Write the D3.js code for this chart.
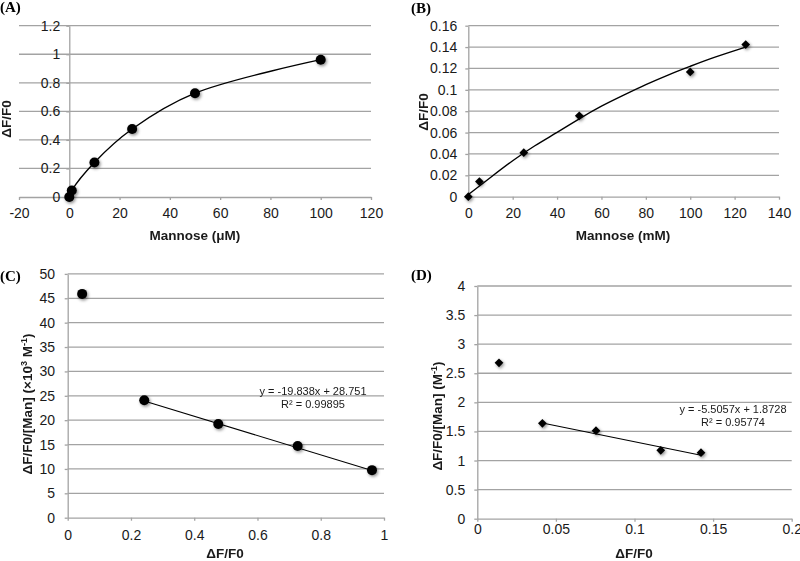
<!DOCTYPE html>
<html><head><meta charset="utf-8">
<script src="https://cdn.jsdelivr.net/npm/d3@7"></script>
<style>
body{margin:0;background:#fff}
text{font-family:"Liberation Sans",Arial,sans-serif}
</style></head>
<body><svg id="c" width="800" height="561"></svg>
<script>
// ---------- DATA ----------
// (A) Mannose (µM) vs ΔF/F0
const aX = [0, 1, 10, 25, 50, 100];
const aY = [0, 0.0457, 0.242, 0.476, 0.727, 0.962];
const aXTicks = [-20, 0, 20, 40, 60, 80, 100, 120];
const aYTicks = [0, 0.2, 0.4, 0.6, 0.8, 1, 1.2];
// (B) Mannose (mM) vs ΔF/F0
const bX = [0, 5, 25, 50, 100, 125];
const bY = [0, 0.0142, 0.0412, 0.0757, 0.1167, 0.1423];
const bFitX = [0, 10, 20, 30, 40, 50, 60, 70, 80, 90, 100, 110, 125];
const bFitY = [0.002, 0.018, 0.034, 0.048, 0.060, 0.073, 0.085, 0.095, 0.105, 0.114, 0.122, 0.130, 0.140];
const bXTicks = [0, 20, 40, 60, 80, 100, 120, 140];
const bYTicks = [0, 0.02, 0.04, 0.06, 0.08, 0.1, 0.12, 0.14, 0.16];
// (C) Scatchard, µM data
const cX = [0.0457, 0.242, 0.476, 0.727, 0.962];
const cY = [45.9, 24.1, 19.2, 14.7, 9.75];
const cSlope = -19.838, cIntercept = 28.751;
const cEq = ["y = -19.838x + 28.751", "R² = 0.99895"];
const cXTicks = [0, 0.2, 0.4, 0.6, 0.8, 1];
const cYTicks = [0, 5, 10, 15, 20, 25, 30, 35, 40, 45, 50];
// (D) Scatchard, mM data
const dX = [0.0138, 0.0414, 0.0755, 0.1167, 0.1423];
const dY = [2.68, 1.64, 1.513, 1.175, 1.135];
const dSlope = -5.5057, dIntercept = 1.8728;
const dEq = ["y = -5.5057x + 1.8728", "R² = 0.95774"];
const dXTicks = [0, 0.05, 0.1, 0.15, 0.2];
const dYTicks = [0, 0.5, 1, 1.5, 2, 2.5, 3, 3.5, 4];

// ---------- DRAW ----------
const svg = d3.select("#c");
const GRID = "#a3a3a3", TXT = "#1a1a1a";
const defs = svg.append("defs");
const f = defs.append("filter").attr("id","sh").attr("x","-80%").attr("y","-80%").attr("width","260%").attr("height","260%");
f.append("feDropShadow").attr("dx",1.2).attr("dy",1.5).attr("stdDeviation",1.4).attr("flood-color","#000").attr("flood-opacity",0.45);

function panel(cfg) {
  const g = svg.append("g");
  const x = d3.scaleLinear().domain(cfg.xDomain).range(cfg.xRange);
  const y = d3.scaleLinear().domain(cfg.yDomain).range(cfg.yRange);
  g.selectAll("line.grid").data(cfg.yTicks.filter(v => v !== 0)).join("line")
    .attr("x1", cfg.xRange[0]).attr("x2", cfg.xRange[1])
    .attr("y1", d => y(d)).attr("y2", d => y(d))
    .attr("stroke", GRID).attr("stroke-width", 1.3);
  const xa = d3.axisBottom(x).tickValues(cfg.xTicks).tickFormat(d => String(d))
    .tickSize(3).tickSizeOuter(0).tickPadding(cfg.xPad);
  const gx = g.append("g").attr("transform", `translate(0,${y(0)})`).call(xa);
  const ya = d3.axisLeft(y).tickValues(cfg.yTicks).tickFormat(d => String(d))
    .tickSize(3).tickSizeOuter(0).tickPadding(cfg.yPad);
  const gy = g.append("g").attr("transform", `translate(${x(0)},0)`).call(ya);
  [gx, gy].forEach(a => {
    a.select(".domain").attr("stroke", GRID).attr("stroke-width", 1.3);
    a.selectAll(".tick line").attr("stroke", GRID).attr("stroke-width", 1.3);
    a.selectAll(".tick text").attr("fill", TXT).style("font-size", "14px")
      .style("font-family", '"Liberation Sans",Arial,sans-serif');
  });
  return {g, x, y};
}

function circles(p, xs, ys) {
  p.g.append("g").attr("filter","url(#sh)").selectAll("circle").data(xs).join("circle")
    .attr("cx", d => p.x(d)).attr("cy", (d,i) => p.y(ys[i])).attr("r", 5).attr("fill", "#000");
}
function diamonds(p, xs, ys) {
  const sym = d3.symbol().type(d3.symbolSquare).size(38);
  p.g.append("g").attr("filter","url(#sh)").selectAll("path").data(xs).join("path")
    .attr("d", sym).attr("fill", "#000")
    .attr("transform", (d,i) => `translate(${p.x(d)},${p.y(ys[i])}) rotate(45)`);
}
function label(txt, x, y) {
  svg.append("text").attr("x", x).attr("y", y).attr("dy","0.35em")
    .style("font-family",'"Liberation Serif","Times New Roman",serif').style("font-weight","bold")
    .style("font-size","15px").attr("fill","#000").text(txt);
}
function xTitle(txt, cx, cy) {
  svg.append("text").attr("x", cx).attr("y", cy).attr("dy","0.35em").attr("text-anchor","middle")
    .style("font-weight","bold").style("font-size","13.5px").attr("fill",TXT).text(txt);
}
function yTitle(parts, cx, cy) {
  const t = svg.append("text").attr("transform", `translate(${cx},${cy}) rotate(-90)`)
    .attr("dy","0.35em").attr("text-anchor","middle")
    .style("font-weight","bold").style("font-size","13.5px").attr("fill",TXT);
  parts.forEach(pt => {
    const s = t.append("tspan").text(pt.t);
    if (pt.sup) s.attr("dy", -5).style("font-size","9px");
    if (pt.down) s.attr("dy", 5);
  });
}
function eq(lines, cx, cy) {
  lines.forEach((l,i) => svg.append("text").attr("x", cx).attr("y", cy + i*13.5).attr("dy","0.35em")
    .attr("text-anchor","middle").style("font-size","11px").attr("fill",TXT).text(l));
}

// (A)
const pA = panel({xDomain:[-20,120], xRange:[19,371], yDomain:[0,1.2], yRange:[197,25.7],
  xTicks:aXTicks, yTicks:aYTicks, xPad:8.3, yPad:6});
pA.g.append("path").datum(aX.map((d,i)=>[d,aY[i]]))
  .attr("d", d3.line().x(d=>pA.x(d[0])).y(d=>pA.y(d[1])).curve(d3.curveCatmullRom.alpha(0.5)))
  .attr("fill","none").attr("stroke","#000").attr("stroke-width",1.4);
circles(pA, aX, aY);

// (B)
const pB = panel({xDomain:[0,140], xRange:[468.3,779], yDomain:[0,0.16], yRange:[196.7,25.7],
  xTicks:bXTicks, yTicks:bYTicks, xPad:8.3, yPad:8});
pB.g.append("path").datum(bFitX.map((d,i)=>[d,bFitY[i]]))
  .attr("d", d3.line().x(d=>pB.x(d[0])).y(d=>pB.y(d[1])).curve(d3.curveBasis))
  .attr("fill","none").attr("stroke","#000").attr("stroke-width",1.4);
diamonds(pB, bX, bY);

// (C)
const pC = panel({xDomain:[0,1], xRange:[67.7,384], yDomain:[0,50], yRange:[517.7,273.9],
  xTicks:cXTicks, yTicks:cYTicks, xPad:9.3, yPad:9.7});
const cFit = [cX[1], cX[cX.length-1]];
pC.g.append("path").datum(cFit.map(v=>[v, cSlope*v + cIntercept]))
  .attr("d", d3.line().x(d=>pC.x(d[0])).y(d=>pC.y(d[1])))
  .attr("fill","none").attr("stroke","#000").attr("stroke-width",1.1);
circles(pC, cX, cY);

// (D)
const pD = panel({xDomain:[0,0.2], xRange:[477.3,791.7], yDomain:[0,4], yRange:[518.7,286],
  xTicks:dXTicks, yTicks:dYTicks, xPad:2.5, yPad:9});
const dFit = [dX[1], dX[dX.length-1]];
pD.g.append("path").datum(dFit.map(v=>[v, dSlope*v + dIntercept]))
  .attr("d", d3.line().x(d=>pD.x(d[0])).y(d=>pD.y(d[1])))
  .attr("fill","none").attr("stroke","#000").attr("stroke-width",1.1);
diamonds(pD, dX, dY);

// text
label("(A)", 0, 7); label("(B)", 411, 8); label("(C)", 0, 276); label("(D)", 411, 275);
xTitle("Mannose (\u03bcM)", 195, 235);
xTitle("Mannose (mM)", 623, 235);
xTitle("\u0394F/F0", 225, 553);
xTitle("\u0394F/F0", 634, 553);
yTitle([{t:"\u0394F/F0"}], 6, 119);
yTitle([{t:"\u0394F/F0"}], 423, 112);
yTitle([{t:"\u0394F/F0/[Man] (\u00d710"},{t:"3",sup:true},{t:" M",down:true},{t:"-1",sup:true},{t:")",down:true}], 27, 404);
yTitle([{t:"\u0394F/F0/[Man] (M"},{t:"-1",sup:true},{t:")",down:true}], 437, 416);
eq(cEq, 313, 391);
eq(dEq, 733, 409);
</script></body></html>
